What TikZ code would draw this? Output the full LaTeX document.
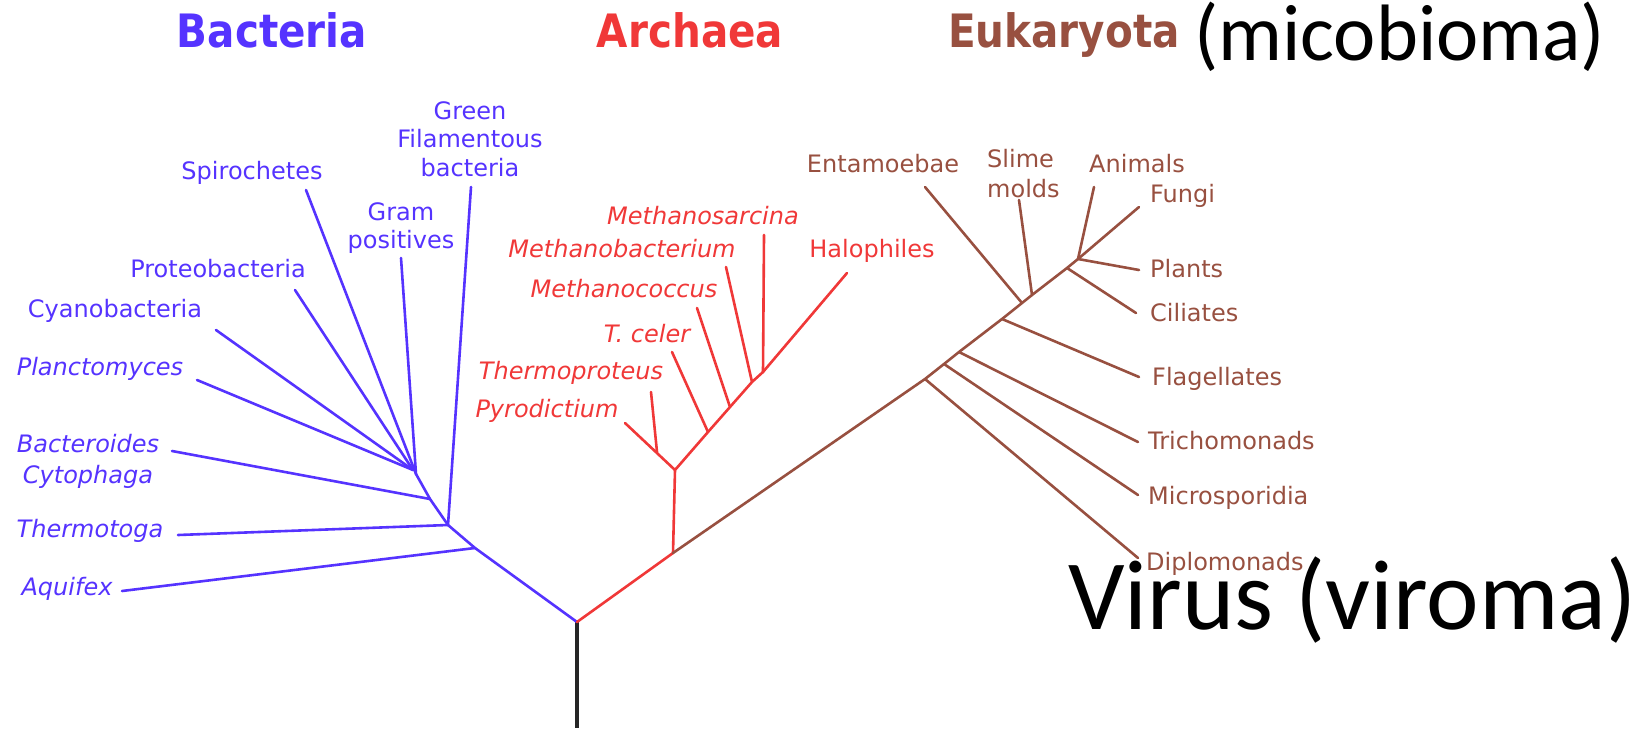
\documentclass[tikz,border=0pt]{standalone}
\usepackage{fontspec}
\setmainfont{DejaVu Sans}
\newfontfamily\calib{Carlito}
\definecolor{bact}{RGB}{85,51,255}
\definecolor{arch}{RGB}{240,56,56}
\definecolor{euk}{RGB}{152,80,64}
\begin{document}
\begin{tikzpicture}[x=1pt,y=-1pt,
  lbl/.style={inner sep=0pt,font=\fontsize{24}{28.5}\selectfont},
  blbl/.style={lbl,text=bact},
  albl/.style={lbl,text=arch},
  elbl/.style={lbl,text=euk},
  ttl/.style={inner sep=0pt,font=\fontsize{46}{50}\selectfont\bfseries},
  br/.style={line width=2.6pt,line cap=round,line join=round},
  bline/.style={br,draw=bact},
  aline/.style={br,draw=arch},
  eline/.style={br,draw=euk}]
\useasboundingbox (0,0) rectangle (1643,728);
% titles
\node[ttl,text=bact,anchor=base] (tb) at (272,47) {\scalebox{0.88}[1]{Bacteria}};
\node[ttl,text=arch,anchor=base] (ta) at (690,47) {\scalebox{0.88}[1]{Archaea}};
\node[ttl,text=euk,anchor=base west] (te) at (948,47) {\scalebox{0.88}[1]{Eukaryota}};
\node[inner sep=0pt,anchor=base west,font=\calib\fontsize{80}{84}\selectfont] (tm) at (1194,60) {(micobioma)};
\node[inner sep=0pt,anchor=base west,font=\calib\fontsize{99.5}{102}\selectfont] (tv) at (1068,629) {Virus (viroma)};
% junction coordinates
\coordinate (R) at (577,622);
\coordinate (bot) at (577,728);
\coordinate (A) at (475,548);
\coordinate (T) at (448,525);
\coordinate (Bj) at (430,499);
\coordinate (C) at (416,474);
\coordinate (C2) at (413,470);
\coordinate (aqE) at (122,591);
\coordinate (thE) at (178,535);
\coordinate (grE) at (471,187);
\coordinate (baE) at (172,451);
\coordinate (gpE) at (401,258);
\coordinate (spE) at (306,190);
\coordinate (prE) at (295,290);
\coordinate (cyE) at (216,330);
\coordinate (plE) at (197,380);
% red
\coordinate (S) at (673,553);
\coordinate (P) at (675,470);
\coordinate (pyE) at (625,423);
\coordinate (tpJ) at (657,452);
\coordinate (tpE) at (651,392);
\coordinate (J1) at (708,432);
\coordinate (J2) at (730,407);
\coordinate (J3) at (752,382);
\coordinate (J4) at (763,372);
\coordinate (haE) at (847,273);
\coordinate (tcE) at (672,352);
\coordinate (mcE) at (697,308);
\coordinate (mbE) at (726,267);
\coordinate (msE) at (764,235);
% brown
\coordinate (Dj) at (925,379);
\coordinate (Mj) at (944,364);
\coordinate (Tj) at (959,352);
\coordinate (Fj) at (1002,319);
\coordinate (Ej) at (1022,303);
\coordinate (Sj) at (1032,295);
\coordinate (Cj) at (1067,268);
\coordinate (Aj) at (1078,259);
\coordinate (diE) at (1138,558);
\coordinate (miE) at (1138,495);
\coordinate (trE) at (1138,442);
\coordinate (flE) at (1139,377);
\coordinate (enE) at (925,187);
\coordinate (slE) at (1019,200);
\coordinate (ciE) at (1136,313);
\coordinate (anE) at (1094,187);
\coordinate (fuE) at (1139,207);
\coordinate (plaE) at (1139,270);
% labels blue
\node[blbl,align=center] (green) at (470,139) {Green\\Filamentous\\bacteria};
\node[blbl,anchor=mid] (spiro) at (252,177) {Spirochetes};
\node[blbl,align=center] (gram) at (401,228) {Gram\\positives};
\node[blbl,anchor=mid] (proteo) at (218,275) {Proteobacteria};
\node[blbl,anchor=mid] (cyano) at (115,315) {Cyanobacteria};
\node[blbl,anchor=mid,font=\fontsize{24}{28.5}\selectfont\itshape] (plancto) at (100,373) {Planctomyces};
\node[blbl,align=center,font=\fontsize{24}{31}\selectfont\itshape] (bacter) at (88,461) {Bacteroides\\Cytophaga};
\node[blbl,anchor=mid,font=\fontsize{24}{28.5}\selectfont\itshape] (thermo) at (90,535) {Thermotoga};
\node[blbl,anchor=mid,font=\fontsize{24}{28.5}\selectfont\itshape] (aquifex) at (67,593) {Aquifex};
% labels red
\node[albl,anchor=mid,font=\fontsize{24}{28.5}\selectfont\itshape] (pyro) at (547,415) {Pyrodictium};
\node[albl,anchor=mid,font=\fontsize{24}{28.5}\selectfont\itshape] (tprot) at (571,377) {Thermoproteus};
\node[albl,anchor=mid,font=\fontsize{24}{28.5}\selectfont\itshape] (tceler) at (647,340) {T. celer};
\node[albl,anchor=mid,font=\fontsize{24}{28.5}\selectfont\itshape] (mcoc) at (624,295) {Methanococcus};
\node[albl,anchor=mid,font=\fontsize{24}{28.5}\selectfont\itshape] (mbac) at (622,255) {Methanobacterium};
\node[albl,anchor=mid,font=\fontsize{24}{28.5}\selectfont\itshape] (msar) at (703,222) {Methanosarcina};
\node[albl,anchor=mid] (halo) at (872,255) {Halophiles};
% labels brown
\node[elbl,anchor=mid] (ent) at (883,170) {Entamoebae};
\node[elbl,align=left,anchor=west,font=\fontsize{24}{30}\selectfont] (slime) at (987,174) {Slime\\molds};
\node[elbl,anchor=mid] (animals) at (1137,170) {Animals};
\node[elbl,anchor=mid west] (fungi) at (1150,200) {Fungi};
\node[elbl,anchor=mid west] (plants) at (1150,275) {Plants};
\node[elbl,anchor=mid west] (cili) at (1150,319) {Ciliates};
\node[elbl,anchor=mid west] (flag) at (1152,383) {Flagellates};
\node[elbl,anchor=mid west] (tricho) at (1148,447) {Trichomonads};
\node[elbl,anchor=mid west] (micro) at (1148,502) {Microsporidia};
\node[elbl,anchor=mid west] (diplo) at (1146,568) {Diplomonads};
% branches
\draw[line width=3.6pt,draw=black!85] (R) -- (bot);
\draw[bline] (R) -- (A) -- (T) -- (Bj) -- (C) -- (gpE);
\draw[bline] (A) -- (aqE);
\draw[bline] (T) -- (thE);
\draw[bline] (T) -- (grE);
\draw[bline] (Bj) -- (baE);
\draw[bline] (C) -- (spE);
\draw[bline] (C2) -- (prE);
\draw[bline] (C2) -- (cyE);
\draw[bline] (C2) -- (plE);
\draw[aline] (R) -- (S) -- (P) -- (J1) -- (J2) -- (J3) -- (J4) -- (haE);
\draw[aline] (P) -- (pyE);
\draw[aline] (tpJ) -- (tpE);
\draw[aline] (J1) -- (tcE);
\draw[aline] (J2) -- (mcE);
\draw[aline] (J3) -- (mbE);
\draw[aline] (J4) -- (msE);
\draw[eline] (S) -- (Dj) -- (Mj) -- (Tj) -- (Fj) -- (Ej) -- (Sj) -- (Cj) -- (Aj);
\draw[eline] (Dj) -- (diE);
\draw[eline] (Mj) -- (miE);
\draw[eline] (Tj) -- (trE);
\draw[eline] (Fj) -- (flE);
\draw[eline] (Ej) -- (enE);
\draw[eline] (Sj) -- (slE);
\draw[eline] (Cj) -- (ciE);
\draw[eline] (Aj) -- (anE);
\draw[eline] (Aj) -- (fuE);
\draw[eline] (Aj) -- (plaE);
\end{tikzpicture}
\end{document}
